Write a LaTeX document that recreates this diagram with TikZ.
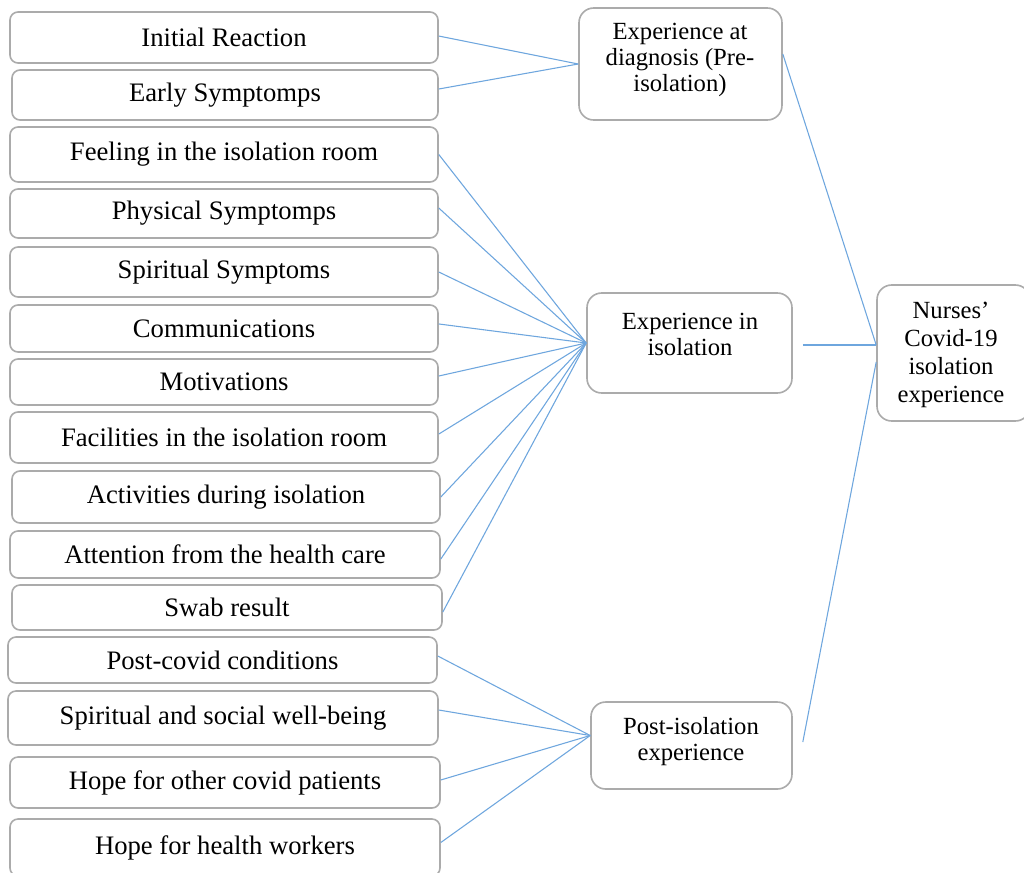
\documentclass[tikz,border=0pt]{standalone}
\usepackage{fontspec}
\setmainfont{Liberation Serif}
\tikzset{
  lbox/.style={draw=boxgray, line width=1.2pt, rounded corners=6pt, inner sep=0pt,
    font=\fontsize{20}{24}\selectfont, fill=white},
  mbox/.style={draw=boxgray, line width=1.2pt, rounded corners=11pt, inner sep=0pt, fill=white},
  mtext/.style={align=center, inner sep=0pt, font=\fontsize{18.5}{19.5}\selectfont},
  ntext/.style={align=center, inner sep=0pt, font=\fontsize{18.5}{21}\selectfont},
  link/.style={draw=linkblue, line width=0.8pt},
}
\definecolor{boxgray}{HTML}{ABABAB}
\definecolor{linkblue}{HTML}{6EA6DE}
\begin{document}
\begin{tikzpicture}[x=0.75pt,y=-0.75pt]
\clip (0,0) rectangle (1024,872);
\fill[white] (0,0) rectangle (1024,872);
% left boxes
\node[lbox, minimum width=428*0.75pt, minimum height=51*0.75pt] (ir)  at (224,37.5)  {Initial Reaction};
\node[lbox, minimum width=426*0.75pt, minimum height=50*0.75pt] (es)  at (225,95)    {Early Symptomps};
\node[lbox, minimum width=428*0.75pt, minimum height=55*0.75pt] (fir) at (224,154.5) {Feeling in the isolation room};
\node[lbox, minimum width=428*0.75pt, minimum height=49*0.75pt] (ps)  at (224,213.5) {Physical Symptomps};
\node[lbox, minimum width=428*0.75pt, minimum height=50*0.75pt] (ss)  at (224,272)   {Spiritual Symptoms};
\node[lbox, minimum width=428*0.75pt, minimum height=47*0.75pt] (com) at (224,328.5) {Communications};
\node[lbox, minimum width=428*0.75pt, minimum height=46*0.75pt] (mot) at (224,382)   {Motivations};
\node[lbox, minimum width=428*0.75pt, minimum height=51*0.75pt] (fac) at (224,437.5) {Facilities in the isolation room};
\node[lbox, minimum width=428*0.75pt, minimum height=52*0.75pt] (act) at (226,497)   {Activities during isolation};
\node[lbox, minimum width=430*0.75pt, minimum height=47*0.75pt] (att) at (225,554.5) {Attention from the health care};
\node[lbox, minimum width=430*0.75pt, minimum height=45*0.75pt] (swb) at (227,607.5) {Swab result};
\node[lbox, minimum width=429*0.75pt, minimum height=46*0.75pt] (pcc) at (222.5,660) {Post-covid conditions};
\node[lbox, minimum width=430*0.75pt, minimum height=54*0.75pt] (ssw) at (223,718)   {Spiritual and social well-being};
\node[lbox, minimum width=430*0.75pt, minimum height=51*0.75pt] (hoc) at (225,782.5) {Hope for other covid patients};
\node[lbox, minimum width=430*0.75pt, minimum height=57*0.75pt] (hhw) at (225,847.5) {Hope for health workers};
% middle boxes
\node[mbox, minimum width=203*0.75pt, minimum height=112*0.75pt] (diag) at (680.5,64) {};
\node[mtext] (diagt) at (680,60) {Experience at\\diagnosis (Pre-\\isolation)};
\node[mbox, minimum width=205*0.75pt, minimum height=100*0.75pt] (iso) at (689.5,343) {};
\node[mtext] (isot) at (690,334) {Experience in\\isolation};
\node[mbox, minimum width=201*0.75pt, minimum height=87*0.75pt] (post) at (691.5,745.5) {};
\node[mtext] (postt) at (691,742) {Post-isolation\\experience};
% right box
\node[mbox, minimum width=153*0.75pt, minimum height=136*0.75pt] (nur) at (953.5,353) {};
\node[ntext] (nurt) at (951,355) {Nurses'\\Covid-19\\isolation\\experience};
% hub coordinates
\coordinate (hpost) at ([yshift=7.5pt]post.west);
\coordinate (nup) at ([yshift=6pt]nur.west);
\coordinate (nlow) at ([yshift=-6.75pt]nur.west);
% connectors to diagnosis
\draw[link] ([yshift=1.1pt]ir.east) -- (diag.west);
\draw[link] ([yshift=4.5pt]es.east) -- (diag.west);
% connectors to isolation
\draw[link] (fir.east) -- (iso.west);
\draw[link] ([yshift=4.1pt]ps.east) -- (iso.west);
\draw[link] (ss.east) -- (iso.west);
\draw[link] ([yshift=3.4pt]com.east) -- (iso.west);
\draw[link] ([yshift=4.5pt]mot.east) -- (iso.west);
\draw[link] ([yshift=2.6pt]fac.east) -- (iso.west);
\draw[link] (act.east) -- (iso.west);
\draw[link] ([yshift=-3.4pt]att.east) -- (iso.west);
\draw[link] ([yshift=-3.4pt]swb.east) -- (iso.west);
% connectors to post-isolation
\draw[link] ([yshift=3pt]pcc.east) -- (hpost);
\draw[link] ([yshift=6pt]ssw.east) -- (hpost);
\draw[link] ([yshift=1.9pt]hoc.east) -- (hpost);
\draw[link] ([yshift=3.75pt]hhw.east) -- (hpost);
% connectors to nurses' box
\draw[link] ([yshift=7.5pt]diag.east) -- (nup);
\draw[link] ([xshift=7.5pt,yshift=-1.5pt]iso.east) -- (nup);
\draw[link] ([xshift=7.5pt,yshift=2.6pt]post.east) -- (nlow);
\end{tikzpicture}
\end{document}
